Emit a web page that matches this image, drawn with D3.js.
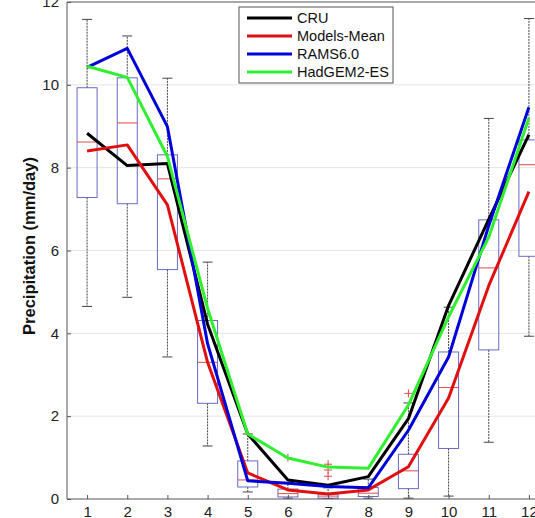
<!DOCTYPE html>
<html>
<head>
<meta charset="utf-8">
<script src="https://cdn.jsdelivr.net/npm/d3@7"></script>
<style>
  body { margin: 0; background: #fff; }
  svg { display: block; font-family: "Liberation Sans", Arial, sans-serif; }
</style>
</head>
<body>
<div id="chart"></div>
<script>
// months on the x axis
const months = [1, 2, 3, 4, 5, 6, 7, 8, 9, 10, 11, 12];
const yTicks = [0, 2, 4, 6, 8, 10, 12];

// box plot stats per month (models spread)
const whiskerLow  = [4.65, 4.87, 3.43, 1.28, 0.17, 0.02, 0.01, 0.02, 0.02, 0.07, 1.37, 3.93];
const quart1      = [7.28, 7.13, 5.54, 2.31, 0.29, 0.05, 0.02, 0.06, 0.25, 1.22, 3.60, 5.86];
const medians     = [8.62, 9.08, 7.73, 3.30, 0.46, 0.13, 0.07, 0.14, 0.68, 2.69, 5.58, 8.07];
const quart3      = [9.93, 10.17, 8.31, 4.31, 0.92, 0.24, 0.12, 0.28, 1.08, 3.55, 6.74, 8.67];
const whiskerHigh = [11.58, 11.18, 10.16, 5.72, 1.57, 0.40, 0.27, 0.48, 2.32, 4.63, 9.19, 11.60];
const outlierMonth = [6, 7, 7, 7, 9];
const outlierValue = [1.00, 0.84, 0.70, 0.55, 2.55];

// series
const cru        = [8.83, 8.05, 8.10, 4.22, 1.57, 0.46, 0.33, 0.54, 1.94, 4.67, 6.75, 8.80];
const modelsMean = [8.40, 8.55, 7.10, 3.30, 0.63, 0.22, 0.12, 0.22, 0.78, 2.44, 5.15, 7.42];
const rams       = [10.42, 10.88, 8.99, 3.75, 0.44, 0.38, 0.30, 0.27, 1.66, 3.43, 6.60, 9.46];
const hadgem     = [10.45, 10.18, 8.27, 4.60, 1.57, 0.99, 0.77, 0.74, 2.27, 4.40, 6.32, 9.20];

const seriesNames = ["CRU", "Models-Mean", "RAMS6.0", "HadGEM2-ES"];
const seriesValues = [cru, modelsMean, rams, hadgem];
const seriesColors = ["#000000", "#e01010", "#0000d8", "#2ef02e"];

const W = 535, H = 518;
const pLeft = 67, pTop = 2, pBottom = 499;

const svg = d3.select("#chart").append("svg")
  .attr("width", W)
  .attr("height", H);

const x = d3.scaleLinear().domain([0.5, 12.5]).range([pLeft, 549]);
const y = d3.scaleLinear().domain([0, 12]).range([pBottom, pTop]);

svg.append("defs").append("clipPath").attr("id", "plotclip")
  .append("rect").attr("x", pLeft).attr("y", pTop).attr("width", W - pLeft).attr("height", pBottom - pTop);

// grid lines
svg.append("g")
  .selectAll("line")
  .data(yTicks.filter(t => t > 0 && t < 12))
  .enter().append("line")
  .attr("x1", pLeft).attr("x2", W)
  .attr("y1", d => y(d)).attr("y2", d => y(d))
  .attr("stroke", "#e4e4e4")
  .attr("stroke-width", 1);

const plot = svg.append("g").attr("clip-path", "url(#plotclip)");

// boxes
const boxData = months.map((m, i) => ({
  m, lo: whiskerLow[i], q1: quart1[i], med: medians[i], q3: quart3[i], hi: whiskerHigh[i]
}));
const bw = 20, cw = 10;

const boxes = plot.selectAll("g.box").data(boxData).enter().append("g").attr("class", "box");

boxes.append("line") // upper whisker
  .attr("x1", d => x(d.m)).attr("x2", d => x(d.m))
  .attr("y1", d => y(d.q3)).attr("y2", d => y(d.hi))
  .attr("stroke", "#444").attr("stroke-width", 1).attr("stroke-dasharray", "2,1");
boxes.append("line") // lower whisker
  .attr("x1", d => x(d.m)).attr("x2", d => x(d.m))
  .attr("y1", d => y(d.q1)).attr("y2", d => y(d.lo))
  .attr("stroke", "#444").attr("stroke-width", 1).attr("stroke-dasharray", "2,1");
boxes.append("line")
  .attr("x1", d => x(d.m) - cw / 2).attr("x2", d => x(d.m) + cw / 2)
  .attr("y1", d => y(d.hi)).attr("y2", d => y(d.hi))
  .attr("stroke", "#444").attr("stroke-width", 1);
boxes.append("line")
  .attr("x1", d => x(d.m) - cw / 2).attr("x2", d => x(d.m) + cw / 2)
  .attr("y1", d => y(d.lo)).attr("y2", d => y(d.lo))
  .attr("stroke", "#444").attr("stroke-width", 1);
boxes.append("rect")
  .attr("x", d => x(d.m) - bw / 2)
  .attr("y", d => y(d.q3))
  .attr("width", bw)
  .attr("height", d => y(d.q1) - y(d.q3))
  .attr("fill", "none")
  .attr("stroke", "#6a6ac4")
  .attr("stroke-width", 1);
boxes.append("line")
  .attr("x1", d => x(d.m) - bw / 2).attr("x2", d => x(d.m) + bw / 2)
  .attr("y1", d => y(d.med)).attr("y2", d => y(d.med))
  .attr("stroke", "#e04848").attr("stroke-width", 1);

// outliers
const outliers = outlierMonth.map((m, i) => ({ m, v: outlierValue[i] }));
plot.selectAll("path.out").data(outliers).enter().append("path")
  .attr("class", "out")
  .attr("d", d => `M${x(d.m) - 4},${y(d.v)}h8M${x(d.m)},${y(d.v) - 4}v8`)
  .attr("stroke", "#e04848").attr("stroke-width", 1);

// series lines
const line = d3.line().x((d, i) => x(months[i])).y(d => y(d));
seriesValues.forEach((vals, k) => {
  plot.append("path")
    .datum(vals)
    .attr("d", line)
    .attr("fill", "none")
    .attr("stroke", seriesColors[k])
    .attr("stroke-width", 3)
    .attr("stroke-linejoin", "round");
});

// axes frame
svg.append("line").attr("x1", pLeft).attr("x2", W).attr("y1", pTop).attr("y2", pTop).attr("stroke", "#555");
svg.append("line").attr("x1", pLeft).attr("x2", W).attr("y1", pBottom).attr("y2", pBottom).attr("stroke", "#555");
svg.append("line").attr("x1", pLeft).attr("x2", pLeft).attr("y1", pTop).attr("y2", pBottom).attr("stroke", "#555");

// X Axis
const xAxis = svg.append("g")
  .attr("transform", `translate(0,${pBottom})`)
  .call(d3.axisBottom(x).tickValues(months).tickSizeInner(-4).tickSizeOuter(0).tickPadding(7));
xAxis.select(".domain").remove();
xAxis.selectAll("line").attr("stroke", "#555");
xAxis.selectAll("text").attr("fill", "#222").style("font-size", "15px").style("font-family", "Liberation Sans, Arial, sans-serif");

// Y Axis
const yAxis = svg.append("g")
  .attr("transform", `translate(${pLeft},0)`)
  .call(d3.axisLeft(y).tickValues(yTicks).tickSizeInner(-4).tickSizeOuter(0).tickPadding(8));
yAxis.select(".domain").remove();
yAxis.selectAll("line").attr("stroke", "#555");
yAxis.selectAll("text").attr("fill", "#222").style("font-size", "15px").style("font-family", "Liberation Sans, Arial, sans-serif");

// y label
svg.append("text")
  .attr("transform", "translate(35,246) rotate(-90)")
  .attr("text-anchor", "middle")
  .style("font-size", "16.5px")
  .style("font-weight", "bold")
  .attr("fill", "#111")
  .text("Precipitation (mm/day)");

// legend
const lg = svg.append("g").attr("transform", "translate(239,7)");
lg.append("rect")
  .attr("width", 154).attr("height", 76)
  .attr("fill", "#fff").attr("stroke", "#555").attr("stroke-width", 1);
seriesNames.forEach((name, k) => {
  const ry = 11 + k * 18;
  lg.append("line")
    .attr("x1", 8).attr("x2", 53).attr("y1", ry).attr("y2", ry)
    .attr("stroke", seriesColors[k]).attr("stroke-width", 3);
  lg.append("text")
    .attr("x", 58).attr("y", ry + 5)
    .style("font-size", "14.5px")
    .attr("fill", "#111")
    .text(name);
});
</script>
</body>
</html>
